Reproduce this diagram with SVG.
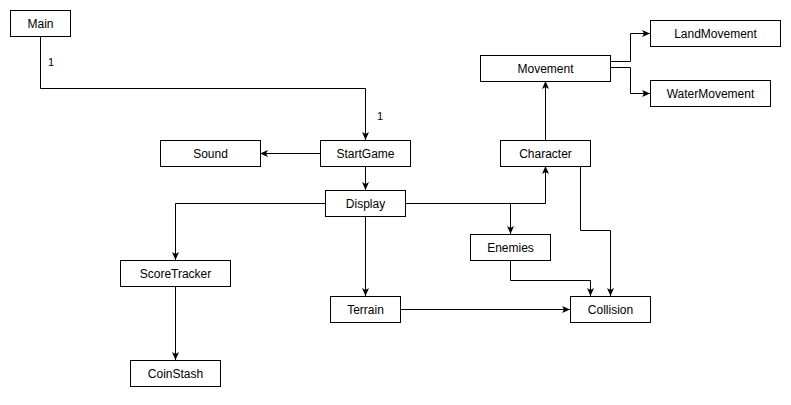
<svg xmlns="http://www.w3.org/2000/svg" width="791" height="405" viewBox="0 0 791 405">
<style>
.box rect{fill:#fff;stroke:#000;stroke-width:1}
.box text{font-family:"Liberation Sans",Arial,sans-serif;font-size:12px;fill:#000;text-anchor:middle}
.edges path{fill:none;stroke:#000;stroke-width:1;marker-end:url(#arr)}
.lbl{font-family:"Liberation Sans",Arial,sans-serif;font-size:11px;fill:#000;text-anchor:middle}
</style>
<defs>
<marker id="arr" markerUnits="userSpaceOnUse" markerWidth="8" markerHeight="8" viewBox="0 0 8 8" refX="8" refY="4" orient="auto">
<path d="M0,0.5 L8,4 L0,7.5 L2,4 Z" fill="#000" stroke="none"/>
</marker>
</defs>
<rect width="791" height="405" fill="#fff"/>
<g class="edges" id="connectors">
<path d="M40.5,36 V88.5 H365.5 V140"/>
<path d="M320,153.5 H260"/>
<path d="M365.5,166 V190"/>
<path d="M325,203.5 H175.5 V260"/>
<path d="M175.5,286 V360"/>
<path d="M365.5,216 V296"/>
<path d="M405,203.5 H545.5 V166"/>
<path d="M510.5,203.5 V234"/>
<path d="M545.5,140 V81"/>
<path d="M610,61.5 H630.5 V33.5 H650"/>
<path d="M610,67.5 H630.5 V93.5 H650"/>
<path d="M580.5,166 V230.5 H610.5 V296"/>
<path d="M510.5,260 V280.5 H590.5 V296"/>
<path d="M400,309.5 H570"/>
<text class="lbl" x="51" y="66">1</text>
<text class="lbl" x="380" y="120">1</text>
</g>
<g class="box" id="Main"><rect x="10.5" y="10.5" width="60" height="26"/><text x="40.5" y="27.5">Main</text></g>
<g class="box" id="Movement"><rect x="480.5" y="55.5" width="130" height="26"/><text x="545.5" y="72.5">Movement</text></g>
<g class="box" id="LandMovement"><rect x="650.5" y="20.5" width="130" height="26"/><text x="715.5" y="37.5">LandMovement</text></g>
<g class="box" id="WaterMovement"><rect x="650.5" y="80.5" width="120" height="26"/><text x="710.5" y="97.5">WaterMovement</text></g>
<g class="box" id="Sound"><rect x="160.5" y="140.5" width="100" height="26"/><text x="210.5" y="157.5">Sound</text></g>
<g class="box" id="StartGame"><rect x="320.5" y="140.5" width="90" height="26"/><text x="365.5" y="157.5">StartGame</text></g>
<g class="box" id="Character"><rect x="500.5" y="140.5" width="90" height="26"/><text x="545.5" y="157.5">Character</text></g>
<g class="box" id="Display"><rect x="325.5" y="190.5" width="80" height="26"/><text x="365.5" y="207.5">Display</text></g>
<g class="box" id="Enemies"><rect x="470.5" y="234.5" width="80" height="26"/><text x="510.5" y="251.5">Enemies</text></g>
<g class="box" id="ScoreTracker"><rect x="120.5" y="260.5" width="110" height="26"/><text x="175.5" y="277.5">ScoreTracker</text></g>
<g class="box" id="Terrain"><rect x="330.5" y="296.5" width="70" height="26"/><text x="365.5" y="313.5">Terrain</text></g>
<g class="box" id="Collision"><rect x="570.5" y="296.5" width="80" height="26"/><text x="610.5" y="313.5">Collision</text></g>
<g class="box" id="CoinStash"><rect x="130.5" y="360.5" width="90" height="26"/><text x="175.5" y="377.5">CoinStash</text></g>
</svg>
